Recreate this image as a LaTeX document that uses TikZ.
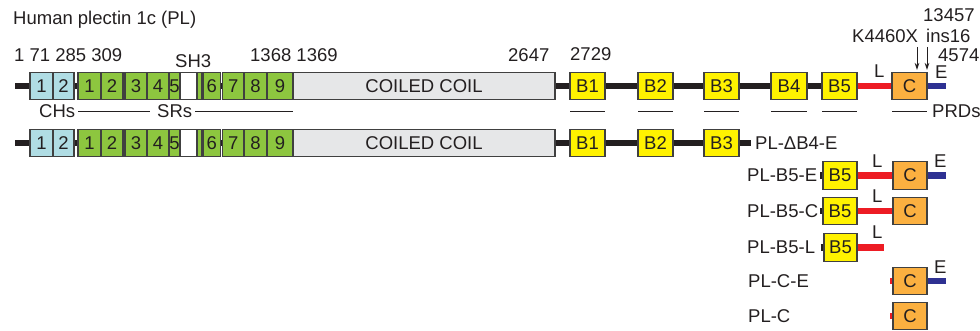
\documentclass[tikz,border=0pt]{standalone}
\usepackage{fontspec}
\setmainfont{Liberation Sans}
\usetikzlibrary{arrows.meta}
\definecolor{txt}{RGB}{35,31,32}
\definecolor{edge}{RGB}{64,64,64}
\definecolor{chb}{RGB}{176,221,228}
\definecolor{srg}{RGB}{141,198,63}
\definecolor{ccg}{RGB}{230,231,232}
\definecolor{byl}{RGB}{255,242,0}
\definecolor{cor}{RGB}{251,176,64}
\definecolor{lred}{RGB}{237,28,36}
\definecolor{eblu}{RGB}{46,49,146}
\definecolor{barb}{RGB}{35,31,32}
\newcommand\fs{\fontsize{18.5}{20}\selectfont}
\pgfdeclarelayer{bg}
\pgfsetlayers{bg,main}
\tikzset{
 every node/.style={font=\fs, text=txt},
 dom/.style={draw=edge, line width=1.1pt, minimum height=27.5pt, inner sep=0pt, outer sep=0pt},
 bar/.style={line width=6.5pt, draw=barb},
 lnk/.style={line width=6.5pt, draw=lred},
 ext/.style={line width=6.5pt, draw=eblu},
 uline/.style={line width=0.9pt, draw=txt},
 arr/.style={line width=1pt, draw=txt, -{Stealth[length=7pt,width=4.5pt]}},
 lab/.style={anchor=base west, inner sep=0pt},
 rlab/.style={anchor=west, inner sep=0pt},
}
\newcommand\dbox[6]{\node[dom,fill=#1,minimum width={(#3)-(#2)}] (#4) at ({((#2)+(#3))/2},#5) {#6};}
\newcommand\plrow[2]{%
 \coordinate (#1st) at (15,#2);
 \dbox{chb}{30}{53}{#1ca}{#2}{1}
 \dbox{chb}{53}{74}{#1cb}{#2}{2}
 \dbox{srg}{78}{101}{#1s1}{#2}{1}
 \dbox{srg}{101}{123}{#1s2}{#2}{2}
 \dbox{srg}{125}{147}{#1s3}{#2}{3}
 \dbox{srg}{147}{169}{#1s4}{#2}{4}
 \dbox{srg}{169}{180}{#1s5}{#2}{5}
 \dbox{white}{180}{197}{#1sw}{#2}{}
 \dbox{srg}{197.5}{202}{#1sx}{#2}{}
 \dbox{srg}{203}{220.5}{#1s6}{#2}{6}
 \dbox{srg}{222.5}{244}{#1s7}{#2}{7}
 \dbox{srg}{244}{267}{#1s8}{#2}{8}
 \dbox{srg}{267}{293}{#1s9}{#2}{9}
 \dbox{ccg}{293}{555}{#1cc}{#2}{COILED COIL}
 \dbox{byl}{570}{605}{#1b1}{#2}{B1}
 \dbox{byl}{638}{673}{#1b2}{#2}{B2}
 \dbox{byl}{704}{739}{#1b3}{#2}{B3}
 \begin{pgfonlayer}{bg}
 \draw[bar] (#1st) -- (#1ca.west);
 \draw[bar] (#1cb.east) -- (#1s1.west);
 \draw[bar] (#1s2.east) -- (#1s3.west);
 \draw[bar] (#1s6.east) -- (#1s7.west);
 \draw[bar] (#1cc.east) -- (#1b1.west);
 \draw[bar] (#1b1.east) -- (#1b2.west);
 \draw[bar] (#1b2.east) -- (#1b3.west);
 \end{pgfonlayer}
}
\begin{document}
\begin{tikzpicture}[x=1pt,y=-1pt]
\useasboundingbox (0,0) rectangle (980,331);

% title and position labels
\node[lab] (title) at (13,25) {Human plectin 1c (PL)};
\node[lab] (pos1) at (14,62) {1 71 285 309};
\node[lab] (sh3) at (175,68) {SH3};
\node[lab] (pos2) at (250,62) {1368 1369};
\node[lab] (pos3) at (508,62) {2647};
\node[lab] (pos4) at (570,61) {2729};
\node[lab] (p13457) at (923,22) {13457};
\node[lab] (k4460) at (852,43) {K4460X};
\node[lab] (ins16) at (926,43) {ins16};
\node[lab] (p4574) at (938,61.5) {4574};

% row 1: full length
\plrow{a}{86}
\dbox{byl}{771}{807}{ab4}{86}{B4}
\dbox{byl}{822}{857}{ab5}{86}{B5}
\dbox{cor}{892}{927}{ac}{86}{C}
\coordinate (ae) at (946,86);
\begin{pgfonlayer}{bg}
\draw[bar] (ab3.east) -- (ab4.west);
\draw[bar] (ab4.east) -- (ab5.west);
\draw[lnk] (ab5.east) -- (ac.west);
\draw[ext] (ac.east) -- (ae);
\end{pgfonlayer}
\node[lab] (al) at (874,78) {L};
\node[lab] (aE) at (935,79) {E};

% mutation arrows
\coordinate (m1s) at (917,47);
\coordinate (m1e) at (917,70);
\coordinate (m2s) at (927,47);
\coordinate (m2e) at (927,70);
\draw[arr] (m1s) -- (m1e);
\draw[arr] (m2s) -- (m2e);

% domain annotation
\node[lab] (chs) at (39,118) {CHs};
\node[lab] (srs) at (157,118) {SRs};
\draw[uline] ([xshift=3pt]chs.east) -- ([xshift=-7pt]srs.west);
\draw[uline] ([xshift=3pt]srs.east) -- (as9.east |- srs.east);
\foreach \b in {ab1,ab2,ab3,ab4,ab5,ac}{
  \draw[uline] ([yshift=-12pt]\b.south west) -- ([yshift=-12pt]\b.south east);
}
\node[lab] (prds) at (932,118) {PRDs};

% row 2: PL-deltaB4-E
\plrow{b}{143}
\coordinate (bend) at (751,143);
\begin{pgfonlayer}{bg}
\draw[bar] (bb3.east) -- (bend);
\end{pgfonlayer}
\node[rlab] (lb) at (755,143) {PL-ΔB4-E};

% row 3: PL-B5-E
\node[rlab] (lc) at (747,175.5) {PL-B5-E};
\dbox{byl}{823}{857}{cb5}{175.5}{B5}
\dbox{cor}{893}{927}{cc}{175.5}{C}
\coordinate (cst) at (820,175.5);
\coordinate (ce) at (946,175.5);
\begin{pgfonlayer}{bg}
\draw[bar] (cst) -- (cb5.west);
\draw[lnk] (cb5.east) -- (cc.west);
\draw[ext] (cc.east) -- (ce);
\end{pgfonlayer}
\node[lab] (cl) at (872,168) {L};
\node[lab] (cE) at (934,168) {E};

% row 4: PL-B5-C
\node[rlab] (ld) at (747,211) {PL-B5-C};
\dbox{byl}{823}{857}{db5}{211}{B5}
\dbox{cor}{893}{927}{dc}{211}{C}
\coordinate (dst) at (820,211);
\begin{pgfonlayer}{bg}
\draw[bar] (dst) -- (db5.west);
\draw[lnk] (db5.east) -- (dc.west);
\end{pgfonlayer}
\node[lab] (dl) at (872,203) {L};

% row 5: PL-B5-L
\node[rlab] (le) at (747,247.5) {PL-B5-L};
\dbox{byl}{824}{857}{eb5}{247.5}{B5}
\coordinate (est) at (820.5,247.5);
\coordinate (eest) at (822.5,247.5);
\coordinate (eend) at (884,247.5);
\draw[bar] (est) -- (eest);
\begin{pgfonlayer}{bg}
\draw[lnk] (eb5.east) -- (eend);
\end{pgfonlayer}
\node[lab] (el) at (872,239) {L};

% row 6: PL-C-E
\node[rlab] (lf) at (748,281) {PL-C-E};
\dbox{cor}{893}{927}{fc}{281}{C}
\coordinate (fst) at (890,281);
\coordinate (fe) at (946,281);
\begin{pgfonlayer}{bg}
\draw[lnk] (fst) -- (fc.west);
\draw[ext] (fc.east) -- (fe);
\end{pgfonlayer}
\node[lab] (fE) at (934,273) {E};

% row 7: PL-C
\node[rlab] (lg) at (748,316) {PL-C};
\dbox{cor}{893}{927}{gc}{316}{C}
\coordinate (gst) at (890,316);
\begin{pgfonlayer}{bg}
\draw[lnk] (gst) -- (gc.west);
\end{pgfonlayer}
\end{tikzpicture}
\end{document}
